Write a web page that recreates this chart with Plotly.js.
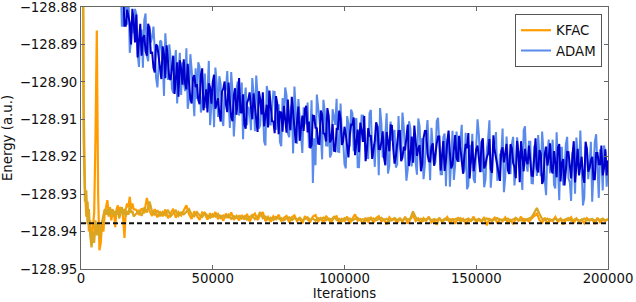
<!DOCTYPE html>
<html>
<head>
<meta charset="utf-8">
<script src="https://cdn.plot.ly/plotly-3.0.1.min.js"></script>
<style>html,body{margin:0;padding:0;background:#fff;}#chart{width:636px;height:302px;}</style>
</head>
<body>
<div id="chart"></div>
<script>
// ---- DATA ----
// KFAC: early iterations logged every 500, later every 1000
const kfacEarlyStart = 0, kfacEarlyStep = 500;
const kfacLateStart = 21000, kfacLateStep = 1000;
const kfacOrangeEarly = [-128.70,-128.80,-128.905,-128.928,-128.936,-128.932,-128.940,-128.937,-128.943,-128.939,
  -128.935,-128.915,-128.8863,-128.930,-128.945,-128.943,-128.938,-128.940,-128.935,-128.9335,
  -128.9316,-128.935,-128.9345,-128.937,-128.935,-128.9345,-128.9388,-128.934,-128.933,-128.935,
  -128.9335,-128.934,-128.9365,-128.9417,-128.934,-128.9325,-128.9335,-128.9307,-128.934,-128.9325,-128.934];
const kfacOrangeLate = [
  -128.9342,-128.9356,-128.9338,-128.9351,-128.9310,-128.9345,-128.9358,-128.9340,-128.9362,-128.9346,
  -128.9359,-128.9341,-128.9364,-128.9350,-128.9339,-128.9363,-128.9348,-128.9357,-128.9342,-128.9330,
  -128.9354,-128.9366,-128.9346,-128.9359,-128.9369,-128.9349,-128.9353,-128.9368,-128.9351,-128.9362,
  -128.9348,-128.9367,-128.9356,-128.9371,-128.9352,-128.9364,-128.9349,-128.9369,-128.9358,-128.9370,
  -128.9356,-128.9368,-128.9353,-128.9373,-128.9360,-128.9352,-128.9369,-128.9357,-128.9348,-128.9372,
  -128.9361,-128.9374,-128.9359,-128.9367,-128.9355,-128.9373,-128.9363,-128.9358,-128.9375,-128.9362,
  -128.9357,-128.9372,-128.9365,-128.9378,-128.9359,-128.9368,-128.9374,-128.9360,-128.9356,-128.9373,
  -128.9364,-128.9376,-128.9358,-128.9369,-128.9375,-128.9362,-128.9359,-128.9377,-128.9366,-128.9372,
  -128.9360,-128.9378,-128.9365,-128.9354,-128.9371,-128.9367,-128.9380,-128.9363,-128.9374,-128.9361,
  -128.9376,-128.9364,-128.9359,-128.9373,-128.9368,-128.9381,-128.9362,-128.9370,-128.9366,-128.9377,
  -128.9363,-128.9375,-128.9360,-128.9379,-128.9367,-128.9356,-128.9372,-128.9365,-128.9378,-128.9364,
  -128.9371,-128.9360,-128.9376,-128.9368,-128.9382,-128.9363,-128.9374,-128.9369,-128.9361,-128.9377,
  -128.9365,-128.9379,-128.9362,-128.9373,-128.9366,-128.9380,-128.9369,-128.9372,-128.9360,-128.9375,
  -128.9368,-128.9374,-128.9361,-128.9383,-128.9366,-128.9370,-128.9363,-128.9378,-128.9367,-128.9372,
  -128.9362,-128.9376,-128.9369,-128.9380,-128.9364,-128.9371,-128.9360,-128.9375,-128.9368,-128.9373,
  -128.9365,-128.9358,-128.9352,-128.9369,-128.9376,-128.9363,-128.9379,-128.9367,-128.9372,-128.9361,
  -128.9374,-128.9366,-128.9381,-128.9369,-128.9370,-128.9362,-128.9377,-128.9365,-128.9373,-128.9368,
  -128.9378,-128.9364,-128.9371,-128.9367,-128.9380,-128.9363,-128.9375,-128.9369,-128.9372,-128.9366];
const kfacGoldEarly = [-128.75,-128.84,-128.915,-128.932,-128.929,-128.938,-128.934,-128.941,-128.9442,-128.940,
  -128.943,-128.937,-128.941,-128.938,-128.942,-128.939,-128.937,-128.936,-128.934,-128.9355,
  -128.934,-128.936,-128.9335,-128.9355,-128.934,-128.936,-128.9345,-128.9355,-128.934,-128.9365,
  -128.935,-128.9335,-128.9355,-128.934,-128.936,-128.9345,-128.9355,-128.933,-128.935,-128.9345,-128.936];
const kfacGoldLate = [
  -128.9353,-128.9344,-128.9358,-128.9336,-128.9349,-128.9320,-128.9347,-128.9355,-128.9343,-128.9359,
  -128.9348,-128.9356,-128.9342,-128.9359,-128.9351,-128.9344,-128.9358,-128.9349,-128.9354,-128.9346,
  -128.9340,-128.9355,-128.9359,-128.9348,-128.9357,-128.9361,-128.9350,-128.9358,-128.9363,-128.9354,
  -128.9360,-128.9353,-128.9364,-128.9357,-128.9362,-128.9355,-128.9366,-128.9359,-128.9363,-128.9358,
  -128.9365,-128.9359,-128.9368,-128.9361,-128.9356,-128.9367,-128.9362,-128.9348,-128.9364,-128.9360,
  -128.9368,-128.9363,-128.9369,-128.9361,-128.9366,-128.9364,-128.9370,-128.9365,-128.9362,-128.9369,
  -128.9364,-128.9368,-128.9363,-128.9370,-128.9366,-128.9362,-128.9369,-128.9365,-128.9371,-128.9364,
  -128.9367,-128.9363,-128.9370,-128.9365,-128.9368,-128.9361,-128.9369,-128.9366,-128.9372,-128.9364,
  -128.9368,-128.9365,-128.9370,-128.9366,-128.9363,-128.9369,-128.9367,-128.9371,-128.9364,-128.9368,
  -128.9365,-128.9370,-128.9367,-128.9363,-128.9369,-128.9366,-128.9372,-128.9368,-128.9364,-128.9369,
  -128.9367,-128.9370,-128.9364,-128.9368,-128.9365,-128.9346,-128.9362,-128.9369,-128.9366,-128.9371,
  -128.9368,-128.9364,-128.9370,-128.9367,-128.9369,-128.9365,-128.9372,-128.9366,-128.9369,-128.9367,
  -128.9370,-128.9366,-128.9369,-128.9364,-128.9371,-128.9368,-128.9365,-128.9370,-128.9367,-128.9369,
  -128.9366,-128.9371,-128.9368,-128.9365,-128.9369,-128.9372,-128.9367,-128.9364,-128.9370,-128.9368,
  -128.9369,-128.9365,-128.9371,-128.9367,-128.9364,-128.9369,-128.9370,-128.9366,-128.9368,-128.9365,
  -128.9362,-128.9350,-128.9337,-128.9353,-128.9366,-128.9369,-128.9365,-128.9371,-128.9368,-128.9366,
  -128.9369,-128.9366,-128.9370,-128.9367,-128.9364,-128.9371,-128.9368,-128.9366,-128.9372,-128.9369,
  -128.9365,-128.9370,-128.9368,-128.9366,-128.9371,-128.9367,-128.9369,-128.9365,-128.9370,-128.9368];

// ADAM: logged every 500 iterations; stored as the whole-thousand samples and the half-thousand samples
const adamLightStart = 13000, adamDarkStart = 14000, adamStep = 1000, adamHalfOffset = 500;
const adamLight = [
  -128.870,-128.877,-128.872,-128.885,-128.881,-128.8755,-128.889,-128.887,-128.882,-128.896,
  -128.886,-128.8835,-128.893,-128.885,-128.888,-128.8915,-128.9015,-128.889,-128.8945,-128.887,
  -128.8995,-128.8935,-128.903,-128.8915,-128.897,-128.9035,-128.900,-128.891,-128.9044,-128.8968,
  -128.9092,-128.9046,-128.896,-128.9064,-128.8978,-128.9032,-128.9116,-128.901,-128.8962,-128.9094,
  -128.9006,-128.9118,-128.902,-128.9062,-128.8974,-128.9146,-128.9018,-128.909,-128.9002,-128.9054,
  -128.9116,-128.9078,-128.899,-128.9132,-128.9034,-128.9116,-128.9068,-128.917,-128.9032,-128.9114,
  -128.9026,-128.9128,-128.906,-128.9172,-128.9094,-128.9036,-128.9148,-128.906,-128.90125,-128.9165,
  -128.90975,-128.919,-128.90725,-128.9055,-128.91475,-128.927,-128.92225,-128.9075,-128.91365,-128.9048,
  -128.91695,-128.9101,-128.91925,-128.9094,-128.90455,-128.9187,-128.91385,-128.922,-128.90915,-128.9173,
  -128.90845,-128.9106,-128.92275,-128.9149,-128.90905,-128.9182,-128.92035,-128.9075,-128.91665,-128.9128,
  -128.92495,-128.9111,-128.91925,-128.9084,-128.92255,-128.9157,-128.91285,-128.922,-128.9171,-128.9082,
  -128.9213,-128.9234,-128.9125,-128.9166,-128.9217,-128.9098,-128.9209,-128.926,-128.9141,-128.9182,
  -128.9123,-128.9224,-128.9105,-128.9196,-128.9247,-128.9138,-128.9159,-128.928,-128.9131,-128.9222,
  -128.9183,-128.9154,-128.9245,-128.9136,-128.9277,-128.9218,-128.9259,-128.917,-128.91405,-128.9241,
  -128.92815,-128.9182,-128.91025,-128.9233,-128.91635,-128.9264,-128.91945,-128.9125,-128.92555,-128.9206,
  -128.92465,-128.9147,-128.92375,-128.9188,-128.92285,-128.9129,-128.92195,-128.916,-128.92705,-128.9171,
  -128.92515,-128.9202,-128.91325,-128.9263,-128.91935,-128.9244,-128.91545,-128.9285,-128.92155,-128.9176,
  -128.92765,-128.9167,-128.92575,-128.9318,-128.91985,-128.9149,-128.92495,-128.921,-128.931,-128.918,
  -128.922,-128.932,-128.916,-128.925,-128.918,-128.929,-128.919,-128.922];
const adamLightHalf = [
  -128.874,
  -128.8725,-128.885,-128.874,-128.88475,-128.89225,-128.8825,-128.8805,-128.8925,-128.8875,-128.89625,
  -128.88175,-128.8945,-128.8895,-128.88525,-128.899,-128.89475,-128.88925,-128.90375,-128.89225,-128.890,
  -128.90175,-128.89525,-128.90575,-128.89225,-128.89475,-128.9025,-128.9072,-128.8926,-128.903,-128.8964,
  -128.8948,-128.9082,-128.9016,-128.907,-128.8944,-128.9058,-128.9121,-128.9003,-128.8985,-128.9097,
  -128.9029,-128.8971,-128.9123,-128.9025,-128.9087,-128.8999,-128.9071,-128.9153,-128.9015,-128.9067,
  -128.9129,-128.9031,-128.8983,-128.9125,-128.9057,-128.9159,-128.9011,-128.9113,-128.9075,-128.9027,
  -128.9109,-128.9161,-128.9043,-128.9015,-128.9137,-128.9079,-128.9191,-128.9074,-128.9046,-128.9159,
  -128.9071,-128.9114,-128.9176,-128.9049,-128.9151,-128.9034,-128.9116,-128.9207,-128.9079,-128.917,
  -128.9202,-128.9073,-128.9115,-128.9186,-128.9058,-128.9159,-128.9231,-128.9112,-128.9074,-128.9185,
  -128.9097,-128.9228,-128.909,-128.9141,-128.9203,-128.9084,-128.9186,-128.9227,-128.9119,-128.907,
  -128.9202,-128.9143,-128.9245,-128.9106,-128.9138,-128.9229,-128.9091,-128.9192,-128.9123,-128.9264,
  -128.9105,-128.9226,-128.9167,-128.9248,-128.9119,-128.915,-128.9221,-128.9102,-128.9263,-128.9164,
  -128.9215,-128.9096,-128.9247,-128.9148,-128.9279,-128.914,-128.9181,-128.9262,-128.9133,-128.9214,
  -128.9115,-128.9236,-128.9287,-128.9168,-128.9139,-128.927,-128.910,-128.9231,-128.9181,-128.9262,
  -128.9152,-128.9283,-128.9173,-128.9134,-128.9254,-128.9195,-128.9295,-128.9146,-128.9226,-128.9167,
  -128.9277,-128.9148,-128.9188,-128.9289,-128.9119,-128.924,-128.916,-128.9271,-128.9201,-128.9142,
  -128.9252,-128.9183,-128.9303,-128.9154,-128.9204,-128.9275,-128.9135,-128.9316,-128.9176,-128.9237,
  -128.9147,-128.9268,-128.9188,-128.9299,-128.9199,-128.913,-128.933,-128.917,-128.926,-128.916,
  -128.925,-128.914,-128.931,-128.920,-128.917,-128.928];
const adamDark = [
  -128.872,-128.880,-128.876,-128.885,-128.8825,-128.890,-128.884,-128.882,-128.889,-128.893,
  -128.8875,-128.893,-128.886,-128.892,-128.8975,-128.8905,-128.896,-128.8905,-128.899,-128.8945,
  -128.8995,-128.893,-128.8985,-128.904,-128.8965,-128.894,-128.902,-128.9004,-128.9058,-128.8982,
  -128.9006,-128.906,-128.8964,-128.9048,-128.9082,-128.9016,-128.900,-128.9072,-128.9044,-128.9106,
  -128.9018,-128.906,-128.9002,-128.9094,-128.9036,-128.9088,-128.899,-128.9082,-128.9114,-128.9056,
  -128.9028,-128.910,-128.9072,-128.9134,-128.9046,-128.9028,-128.909,-128.9122,-128.9064,-128.9106,
  -128.9038,-128.914,-128.9082,-128.9064,-128.9136,-128.9108,-128.904,-128.91325,-128.9105,-128.91575,
  -128.909,-128.90725,-128.9135,-128.91775,-128.909,-128.91225,-128.9165,-128.90765,-128.9138,-128.91595,
  -128.9091,-128.91525,-128.9184,-128.91255,-128.9077,-128.91685,-128.912,-128.91815,-128.9143,-128.91145,
  -128.9196,-128.91275,-128.9109,-128.91605,-128.9212,-128.91235,-128.9145,-128.91865,-128.9108,-128.91795,
  -128.9161,-128.92025,-128.9134,-128.91855,-128.9117,-128.92185,-128.916,-128.9131,-128.9202,-128.9183,
  -128.9114,-128.9195,-128.9216,-128.9157,-128.9178,-128.9239,-128.915,-128.9131,-128.9212,-128.9173,
  -128.9224,-128.9165,-128.9146,-128.9197,-128.9238,-128.9159,-128.919,-128.9221,-128.9142,-128.9213,
  -128.9184,-128.9245,-128.9166,-128.9137,-128.9218,-128.9239,-128.918,-128.92105,-128.9161,-128.92315,
  -128.9202,-128.91525,-128.9243,-128.91835,-128.9224,-128.92645,-128.9175,-128.91955,-128.9236,-128.91665,
  -128.9217,-128.92575,-128.9188,-128.91585,-128.9239,-128.92095,-128.917,-128.92505,-128.9201,-128.92315,
  -128.9182,-128.92725,-128.9193,-128.92235,-128.9164,-128.92445,-128.9215,-128.91755,-128.9266,-128.92065,
  -128.9237,-128.91875,-128.9258,-128.91585,-128.9219,-128.92495,-128.920,-128.927,-128.918,-128.923,
  -128.920,-128.926,-128.919,-128.922,-128.925,-128.918,-128.921];
const adamDarkHalf = [
  -128.8775,-128.876,-128.885,-128.88075,-128.88425,-128.8805,-128.8895,-128.8935,-128.8845,-128.88825,
  -128.89175,-128.8845,-128.8925,-128.89625,-128.890,-128.89375,-128.89925,-128.89275,-128.89025,-128.899,
  -128.89575,-128.90325,-128.89475,-128.89425,-128.90075,-128.9005,-128.8952,-128.9046,-128.899,-128.9014,
  -128.9048,-128.8982,-128.9076,-128.902,-128.9004,-128.9058,-128.8981,-128.9053,-128.9085,-128.9027,
  -128.8999,-128.9081,-128.9053,-128.9105,-128.9017,-128.9049,-128.9081,-128.9033,-128.9125,-128.9047,
  -128.9069,-128.9031,-128.9103,-128.9025,-128.9087,-128.9119,-128.9061,-128.9023,-128.9105,-128.9137,
  -128.9059,-128.9081,-128.9133,-128.9095,-128.9047,-128.9129,-128.9081,-128.9164,-128.9066,-128.9119,
  -128.9131,-128.9064,-128.9106,-128.9169,-128.9091,-128.9124,-128.9166,-128.9087,-128.9139,-128.907,
  -128.9162,-128.9113,-128.9185,-128.9126,-128.9098,-128.9159,-128.9141,-128.9202,-128.9114,-128.9095,
  -128.9157,-128.9188,-128.913,-128.9091,-128.9183,-128.9144,-128.9206,-128.9157,-128.9119,-128.918,
  -128.9132,-128.9223,-128.9155,-128.9116,-128.9178,-128.9199,-128.9131,-128.9212,-128.9173,-128.9154,
  -128.9225,-128.9146,-128.9117,-128.9198,-128.9169,-128.922,-128.9131,-128.9192,-128.9213,-128.9164,
  -128.9185,-128.9146,-128.9237,-128.9158,-128.9209,-128.913,-128.9231,-128.9182,-128.9203,-128.9144,
  -128.9225,-128.9196,-128.9177,-128.9258,-128.9159,-128.921,-128.917,-128.9241,-128.9151,-128.9222,
  -128.9192,-128.9233,-128.9143,-128.9204,-128.9254,-128.9185,-128.9215,-128.9166,-128.9246,-128.9177,
  -128.9227,-128.9158,-128.9268,-128.9199,-128.9179,-128.922,-128.921,-128.9251,-128.9151,-128.9242,
  -128.9192,-128.9263,-128.9173,-128.9204,-128.9234,-128.9185,-128.9255,-128.9166,-128.9216,-128.9277,
  -128.9187,-128.9228,-128.9198,-128.9269,-128.9179,-128.922,-128.925,-128.916,-128.924,-128.921,
  -128.926,-128.919,-128.922,-128.917,-128.923,-128.925];

const exactEnergy = -128.9378;
const referenceSpan = [0, 200000];
const xTicks = [0, 50000, 100000, 150000, 200000];
const yTicks = [-128.95, -128.94, -128.93, -128.92, -128.91, -128.90, -128.89, -128.88];
const seriesNames = ['KFAC', 'ADAM'];

// ---- sampling grids (iteration numbers) ----
function grid(start, step, n) { const a = []; for (let i = 0; i < n; i++) a.push(start + i * step); return a; }
function interleave(start, whole, half) {
  const x = [], y = [];
  for (let i = 0; i < whole.length; i++) {
    x.push(start + i * adamStep); y.push(whole[i]);
    if (i < half.length) { x.push(start + i * adamStep + adamHalfOffset); y.push(half[i]); }
  }
  return {x, y};
}
const kfacIter = grid(kfacEarlyStart, kfacEarlyStep, kfacOrangeEarly.length)
  .concat(grid(kfacLateStart, kfacLateStep, kfacOrangeLate.length));
const kfacOrange = kfacOrangeEarly.concat(kfacOrangeLate);
const kfacGold = kfacGoldEarly.concat(kfacGoldLate);
const lightSeries = interleave(adamLightStart, adamLight, adamLightHalf);
const darkSeries = interleave(adamDarkStart, adamDark, adamDarkHalf);

const FONT = 'DejaVu Sans, sans-serif';
const traces = [
  {x: kfacIter, y: kfacOrange, name: seriesNames[0], mode: 'lines', line: {color: '#FF9C00', width: 2.2}},
  {x: kfacIter, y: kfacGold, showlegend: false, mode: 'lines', line: {color: '#DAA520', width: 2.2}},
  {x: lightSeries.x, y: lightSeries.y, name: seriesNames[1], mode: 'lines', line: {color: '#5A8AEB', width: 2}},
  {x: darkSeries.x, y: darkSeries.y, showlegend: false, mode: 'lines', line: {color: '#0000CC', width: 2}},
  {x: referenceSpan, y: [exactEnergy, exactEnergy], showlegend: false, mode: 'lines',
   line: {color: '#111', width: 2, dash: '5px,3px'}}
];

const axisCommon = {
  showgrid: false, zeroline: false, showline: true, mirror: 'ticks',
  linecolor: '#666', linewidth: 1, ticks: 'inside', ticklen: 4, tickcolor: '#666',
  ticklabeloverflow: 'allow',
  tickfont: {family: FONT, size: 13.3, color: '#111'}, automargin: false
};

const layout = {
  width: 636, height: 302,
  margin: {l: 81, r: 28, t: 7, b: 33, pad: 0},
  paper_bgcolor: '#fff', plot_bgcolor: '#fff',
  font: {family: FONT, size: 13.3, color: '#111'},
  showlegend: true,
  legend: {x: 0.9886, xanchor: 'right', y: 0.973, yanchor: 'top',
    bgcolor: '#fff', bordercolor: '#555', borderwidth: 1,
    font: {family: FONT, size: 13.3, color: '#111'}, tracegroupgap: 0},
  xaxis: Object.assign({}, axisCommon, {
    range: [0, 200000], tickmode: 'array', tickvals: xTicks, tickformat: 'd',
    ticklabelstandoff: -3,
    title: {text: 'Iterations', font: {family: FONT, size: 13.3, color: '#111'}, standoff: 2}
  }),
  yaxis: Object.assign({}, axisCommon, {
    range: [-128.95, -128.88], tickmode: 'array', tickvals: yTicks, tickformat: '.2f',
    title: {text: 'Energy (a.u.)', font: {family: FONT, size: 13.3, color: '#111'}, standoff: 5}
  })
};

Plotly.newPlot('chart', traces, layout, {staticPlot: true, displayModeBar: false});
</script>
</body>
</html>
